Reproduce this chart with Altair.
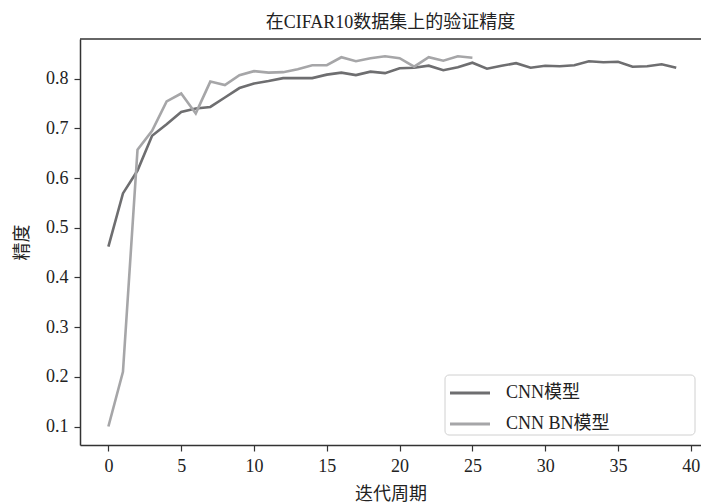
import altair as alt
import pandas as pd

cnn_label = "CNN模型"
bn_label = "CNN BN模型"

cnn_epochs = list(range(40))
cnn_acc = [0.462, 0.569, 0.615, 0.685, 0.708, 0.733, 0.740, 0.743, 0.762, 0.781,
           0.790, 0.795, 0.801, 0.801, 0.801, 0.808, 0.812, 0.807, 0.814, 0.811,
           0.821, 0.822, 0.826, 0.817, 0.823, 0.832, 0.820, 0.826, 0.831, 0.822,
           0.826, 0.825, 0.827, 0.835, 0.833, 0.834, 0.824, 0.825, 0.829, 0.822]

bn_epochs = list(range(26))
bn_acc = [0.100, 0.210, 0.657, 0.695, 0.754, 0.770, 0.730, 0.794, 0.787, 0.807,
          0.815, 0.812, 0.813, 0.819, 0.827, 0.827, 0.843, 0.835, 0.841, 0.845,
          0.841, 0.824, 0.843, 0.836, 0.845, 0.842]

x_ticks = [0, 5, 10, 15, 20, 25, 30, 35, 40]
y_ticks = [0.1, 0.2, 0.3, 0.4, 0.5, 0.6, 0.7, 0.8]

df = pd.concat([
    pd.DataFrame({"epoch": cnn_epochs, "acc": cnn_acc, "model": cnn_label, "order": 0}),
    pd.DataFrame({"epoch": bn_epochs, "acc": bn_acc, "model": bn_label, "order": 1}),
])

FONT = "Liberation Serif, Noto Sans CJK SC"
W, H = 621, 406

lines = alt.Chart(df).mark_line(strokeWidth=2.6).encode(
    x=alt.X("epoch:Q", title="迭代周期",
            scale=alt.Scale(domain=[-1.95, 40.7], nice=False, zero=False),
            axis=alt.Axis(values=x_ticks, format="d", grid=False)),
    y=alt.Y("acc:Q", title="精度",
            scale=alt.Scale(domain=[0.0628, 0.8797], nice=False, zero=False),
            axis=alt.Axis(values=y_ticks, format=".1f", grid=False)),
    color=alt.Color("model:N",
                    scale=alt.Scale(domain=[cnn_label, bn_label],
                                    range=["#6e6e70", "#a6a6a8"]),
                    legend=alt.Legend(title=None, orient="none",
                                      legendX=360, legendY=324,
                                      symbolType="stroke", symbolSize=1600,
                                      symbolStrokeWidth=3.2,
                                      labelFont=FONT, labelFontSize=18,
                                      labelColor="#222222",
                                      labelOffset=14, labelLimit=400,
                                      rowPadding=-18, padding=8)),
    order="order:Q",
)

one = pd.DataFrame({"k": [0]})

# frame: top border only (right spine lies outside the visible area)
top_border = alt.Chart(one).mark_rule(color="#333333", strokeWidth=1.5).encode(
    x=alt.value(0), x2=alt.value(W), y=alt.value(0)
)

legend_box = alt.Chart(one).mark_rect(
    fill="#ffffff", stroke="#d0d0d0", strokeWidth=1, cornerRadius=4
).encode(
    x=alt.value(365), x2=alt.value(615), y=alt.value(336), y2=alt.value(396)
)

chart = alt.layer(legend_box, lines, top_border).properties(
    width=W,
    height=H,
    title=alt.TitleParams("在CIFAR10数据集上的验证精度", font=FONT, fontSize=18,
                          fontWeight="normal", color="#222222", offset=6),
    autosize=alt.AutoSizeParams(type="none"),
    padding={"left": 80, "top": 39, "right": 0, "bottom": 59},
).configure_view(
    stroke=None
).configure_axis(
    labelFont=FONT, labelFontSize=18, labelColor="#222222",
    titleFont=FONT, titleFontSize=18, titleFontWeight="normal", titleColor="#222222",
    domainColor="#333333", domainWidth=1.5,
    tickColor="#333333", tickWidth=1.2, tickSize=6, labelPadding=6,
).configure_axisY(
    titlePadding=14
).configure_axisX(
    titlePadding=10
)

chart.save("out.html", embed_options={"renderer": "svg", "actions": False})
